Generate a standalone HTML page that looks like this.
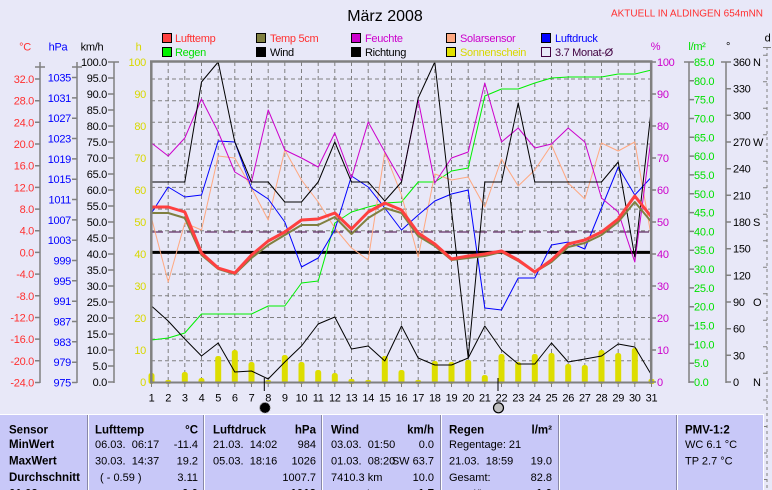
<!DOCTYPE html>
<html><head><meta charset="utf-8"><style>
html,body{margin:0;padding:0;background:#E8E8F8;width:772px;height:490px;overflow:hidden;}
svg{display:block;}
text{font-family:"Liberation Sans",sans-serif;font-size:11px;letter-spacing:-0.3px;}
.t{letter-spacing:0;}
.b{font-weight:bold;font-size:11.5px;letter-spacing:0;}
</style></head><body>
<svg width="772" height="490" xmlns="http://www.w3.org/2000/svg">
<rect x="0" y="0" width="772" height="490" fill="#E8E8F8"/>

<!-- title -->
<text x="385" y="21" text-anchor="middle" style="font-size:16px;letter-spacing:0">März 2008</text>
<text x="763" y="16.5" text-anchor="end" fill="#FF3030" style="font-size:10px;letter-spacing:0" textLength="152" lengthAdjust="spacingAndGlyphs">AKTUELL IN ALDINGEN 654mNN</text>

<!-- legend -->
<g stroke="#000" stroke-width="1">
<rect x="162.5" y="33.5" width="9" height="9" fill="#FF4040"/>
<rect x="256.5" y="33.5" width="9" height="9" fill="#808040"/>
<rect x="351.5" y="33.5" width="9" height="9" fill="#CC00CC"/>
<rect x="446.5" y="33.5" width="9" height="9" fill="#FFA880"/>
<rect x="541.5" y="33.5" width="9" height="9" fill="#0000FF"/>
<rect x="162.5" y="47.5" width="9" height="9" fill="#00F000"/>
<rect x="256.5" y="47.5" width="9" height="9" fill="#000"/>
<rect x="351.5" y="47.5" width="9" height="9" fill="#000"/>
<rect x="446.5" y="47.5" width="9" height="9" fill="#E0E000"/>
<rect x="541.5" y="47.5" width="9" height="9" fill="none" stroke="#400040"/>
</g>
<text x="175" y="42" fill="#FF3030">Lufttemp</text>
<text x="270" y="42" fill="#FF3030">Temp 5cm</text>
<text x="365" y="42" fill="#CC00CC">Feuchte</text>
<text x="460" y="42" fill="#CC00CC">Solarsensor</text>
<text x="555" y="42" fill="#0000FF">Luftdruck</text>
<text x="175" y="56" fill="#00E000">Regen</text>
<text x="270" y="56" fill="#000">Wind</text>
<text x="365" y="56" fill="#000">Richtung</text>
<text x="460" y="56" fill="#D8D800">Sonnenschein</text>
<text x="555" y="56" fill="#400040">3.7 Monat-Ø</text>

<!-- axis headers -->
<text x="25" y="50.5" text-anchor="middle" fill="#FF3030">°C</text>
<text x="58" y="50.5" text-anchor="middle" fill="#0000FF">hPa</text>
<text x="92" y="50.5" text-anchor="middle" fill="#000">km/h</text>
<text x="138.5" y="50.5" text-anchor="middle" fill="#D8D800">h</text>
<text x="655.5" y="50" text-anchor="middle" fill="#CC00CC">%</text>
<text x="697" y="50" text-anchor="middle" fill="#00E000">l/m²</text>
<text x="728" y="50" text-anchor="middle" fill="#000">°</text>
<text x="767.5" y="41.5" text-anchor="middle" fill="#000">d</text>

<!-- grid -->
<g stroke="#808080" stroke-width="1" stroke-dasharray="4,3" fill="none">
<path d="M168.2 62V382M184.8 62V382M201.5 62V382M218.2 62V382M234.8 62V382M251.5 62V382M268.2 62V382M284.8 62V382M301.5 62V382M318.2 62V382M334.8 62V382M351.5 62V382M368.2 62V382M384.8 62V382M401.5 62V382M418.2 62V382M434.8 62V382M451.5 62V382M468.2 62V382M484.8 62V382M501.5 62V382M518.2 62V382M534.8 62V382M551.5 62V382M568.2 62V382M584.8 62V382M601.5 62V382M618.2 62V382M634.8 62V382"/>
<path d="M151 79H651M151 100.7H651M151 122.3H651M151 144H651M151 165.7H651M151 187.4H651M151 209.1H651M151 230.7H651M151 274.1H651M151 295.8H651M151 317.5H651M151 339.1H651M151 360.8H651"/>
</g>

<!-- sunshine bars -->
<g fill="#DDDD00">
<rect x="148.5" y="373" width="6" height="11" rx="2.5"/>
<rect x="165.2" y="380" width="6" height="4" rx="2"/>
<rect x="181.8" y="372" width="6" height="12" rx="2.5"/>
<rect x="198.5" y="378" width="6" height="6" rx="2.5"/>
<rect x="215.2" y="356" width="6" height="28" rx="2.5"/>
<rect x="231.8" y="350" width="6" height="34" rx="2.5"/>
<rect x="248.5" y="362" width="6" height="22" rx="2.5"/>
<rect x="265.2" y="380" width="6" height="4" rx="2"/>
<rect x="281.8" y="355" width="6" height="29" rx="2.5"/>
<rect x="298.5" y="362" width="6" height="22" rx="2.5"/>
<rect x="315.2" y="370" width="6" height="14" rx="2.5"/>
<rect x="331.8" y="373" width="6" height="11" rx="2.5"/>
<rect x="348.5" y="379" width="6" height="5" rx="2"/>
<rect x="365.2" y="380" width="6" height="4" rx="2"/>
<rect x="381.8" y="356" width="6" height="28" rx="2.5"/>
<rect x="398.5" y="370" width="6" height="14" rx="2.5"/>
<rect x="415.2" y="380" width="6" height="4" rx="2"/>
<rect x="431.8" y="361" width="6" height="23" rx="2.5"/>
<rect x="448.5" y="362" width="6" height="22" rx="2.5"/>
<rect x="465.2" y="360" width="6" height="24" rx="2.5"/>
<rect x="481.8" y="375" width="6" height="9" rx="2.5"/>
<rect x="498.5" y="354" width="6" height="30" rx="2.5"/>
<rect x="515.2" y="362" width="6" height="22" rx="2.5"/>
<rect x="531.8" y="354" width="6" height="30" rx="2.5"/>
<rect x="548.5" y="353" width="6" height="31" rx="2.5"/>
<rect x="565.2" y="364" width="6" height="20" rx="2.5"/>
<rect x="581.8" y="365" width="6" height="19" rx="2.5"/>
<rect x="598.5" y="350" width="6" height="34" rx="2.5"/>
<rect x="615.2" y="353" width="6" height="31" rx="2.5"/>
<rect x="631.8" y="348" width="6" height="36" rx="2.5"/>
<rect x="648.5" y="379" width="6" height="5" rx="2"/>
</g>

<!-- 0°C line and monthly mean -->
<line x1="151" y1="252.4" x2="651" y2="252.4" stroke="#000" stroke-width="3"/>
<line x1="151" y1="232" x2="651" y2="232" stroke="#400040" stroke-width="1" stroke-dasharray="12,6"/>

<!-- series -->
<g fill="none" stroke-linejoin="round">
<polyline stroke="#00F000" stroke-width="1" points="151.5,340 168.2,338 184.8,333 201.5,314 218.2,314 234.8,314 251.5,314 268.2,306 284.8,306 301.5,283 318.2,281 334.8,223 351.5,212 368.2,207 384.8,203 401.5,202 418.2,182 434.8,182 451.5,171 468.2,168 484.8,96 501.5,89 518.2,89 534.8,83 551.5,78 568.2,77 584.8,77 601.5,77 618.2,74 634.8,74 651.5,70"/>
<polyline stroke="#FFA880" stroke-width="1" points="151.5,218 168.2,282 184.8,223 201.5,230 218.2,156 234.8,158 251.5,188 268.2,220 284.8,150 301.5,180 318.2,202 334.8,228 351.5,248 368.2,260 384.8,152 401.5,195 418.2,257 434.8,174 451.5,180 468.2,177 484.8,207 501.5,159 518.2,186 534.8,170 551.5,145 568.2,183 584.8,199 601.5,143 618.2,151 634.8,142 651.5,238"/>
<polyline stroke="#0000FF" stroke-width="1" points="151.5,213 168.2,187 184.8,197 201.5,195 218.2,141 234.8,142 251.5,188 268.2,199 284.8,222 301.5,267 318.2,258 334.8,230 351.5,176 368.2,187 384.8,208 401.5,230 418.2,215 434.8,201 451.5,194 468.2,190 484.8,308 501.5,310 518.2,278 534.8,278 551.5,245 568.2,242 584.8,249 601.5,208 618.2,167 634.8,195 651.5,177"/>
<polyline stroke="#CC00CC" stroke-width="1" points="151.5,143 168.2,156 184.8,138 201.5,99 218.2,132 234.8,172 251.5,182 268.2,110 284.8,150 301.5,158 318.2,167 334.8,133 351.5,178 368.2,122 384.8,152 401.5,181 418.2,100 434.8,183 451.5,158 468.2,152 484.8,83 501.5,142 518.2,128 534.8,148 551.5,144 568.2,128 584.8,142 601.5,198 618.2,212 634.8,262 651.5,135"/>
<polyline stroke="#000" stroke-width="1" points="151.5,306 168.2,321 184.8,339 201.5,356 218.2,343 234.8,372 251.5,371 268.2,379 284.8,362 301.5,346 318.2,324 334.8,317 351.5,349 368.2,346 384.8,361 401.5,326 418.2,358 434.8,365 451.5,365 468.2,358 484.8,326 501.5,350 518.2,364 534.8,364 551.5,343 568.2,362 584.8,359 601.5,356 618.2,344 634.8,347 651.5,375"/>
<polyline stroke="#000" stroke-width="1" points="151.5,182 168.2,182 184.8,182 201.5,82 218.2,62 234.8,142 251.5,182 268.2,182 284.8,202 301.5,202 318.2,182 334.8,142 351.5,182 368.2,182 384.8,201 401.5,182 418.2,98 434.8,62 451.5,210 468.2,358 484.8,182 501.5,182 518.2,103 534.8,182 551.5,182 568.2,182 584.8,182 601.5,182 618.2,162 634.8,257 651.5,107"/>
<polyline stroke="#808040" stroke-width="2" points="151.5,213 168.2,213 184.8,218 201.5,255 218.2,269 234.8,274 251.5,258 268.2,245 284.8,235 301.5,225 318.2,225 334.8,217 351.5,234 368.2,218 384.8,208 401.5,213 418.2,236 434.8,246 451.5,260 468.2,258 484.8,256 501.5,252 518.2,261 534.8,272 551.5,262 568.2,247 584.8,243 601.5,235 618.2,222 634.8,202 651.5,222"/>
<polyline stroke="#FF4040" stroke-width="3" points="151.5,207 168.2,207 184.8,212 201.5,253 218.2,268 234.8,273 251.5,255 268.2,241 284.8,232 301.5,220 318.2,219 334.8,213 351.5,229 368.2,212 384.8,203 401.5,210 418.2,233 434.8,244 451.5,259 468.2,256 484.8,254 501.5,251 518.2,260 534.8,272 551.5,260 568.2,244 584.8,240 601.5,232 618.2,219 634.8,196 651.5,217"/>
</g>

<!-- plot border -->
<g stroke="#808080" fill="none">
<line x1="150" y1="61.5" x2="652.5" y2="61.5" stroke-width="2.5"/>
<line x1="151.3" y1="60.5" x2="151.3" y2="383.5" stroke-width="2.5"/>
<line x1="651.2" y1="60.5" x2="651.2" y2="383.5" stroke-width="2.5"/>
<line x1="150" y1="382.5" x2="652.5" y2="382.5" stroke-width="2"/>
<path stroke-width="1" d="M168.2 383V387M184.8 383V387M201.5 383V387M218.2 383V387M234.8 383V387M251.5 383V387M268.2 383V387M284.8 383V387M301.5 383V387M318.2 383V387M334.8 383V387M351.5 383V387M368.2 383V387M384.8 383V387M401.5 383V387M418.2 383V387M434.8 383V387M451.5 383V387M468.2 383V387M484.8 383V387M501.5 383V387M518.2 383V387M534.8 383V387M551.5 383V387M568.2 383V387M584.8 383V387M601.5 383V387M618.2 383V387M634.8 383V387M151.5 383V387M651.5 383V387"/>
</g>
<line x1="264.3" y1="378" x2="264.3" y2="391" stroke="#000" stroke-width="1"/>
<line x1="498" y1="378" x2="498" y2="391" stroke="#000" stroke-width="1"/>

<!-- left axes lines & ticks -->
<g stroke="#808080" stroke-width="1.5" fill="none">
<line x1="40" y1="62" x2="40" y2="383"/>
<path d="M35 67H45M35 382.5H40M35 360.8H40M35 339.1H40M35 317.5H40M35 295.8H40M35 274.1H40M35 252.4H40M35 230.7H40M35 209.1H40M35 187.4H40M35 165.7H40M35 144H40M35 122.3H40M35 100.7H40M35 79H40"/>
<line x1="77" y1="62" x2="77" y2="383"/>
<path d="M72 67H82M72 382.5H77M72 362.2H77M72 341.8H77M72 321.5H77M72 301.2H77M72 280.8H77M72 260.5H77M72 240.2H77M72 219.9H77M72 199.5H77M72 179.2H77M72 158.9H77M72 138.5H77M72 118.2H77M72 97.9H77M72 77.5H77"/>
<line x1="114" y1="62" x2="114" y2="383"/>
<path d="M108 62H119M108 78H114M108 94H114M108 110H114M108 126H114M108 142H114M108 158H114M108 174H114M108 190H114M108 206H114M108 222H114M108 238H114M108 254H114M108 270H114M108 286H114M108 302H114M108 318H114M108 334H114M108 350H114M108 366H114M108 382H114"/>
<path d="M651 62H656M651 94H656M651 126H656M651 158H656M651 190H656M651 222H656M651 254H656M651 286H656M651 318H656M651 350H656M651 382H656"/>
<line x1="689" y1="62" x2="689" y2="383"/>
<path d="M684 62H694M689 80.8H694M689 99.6H694M689 118.5H694M689 137.3H694M689 156.1H694M689 174.9H694M689 193.8H694M689 212.6H694M689 231.4H694M689 250.2H694M689 269.1H694M689 287.9H694M689 306.7H694M689 325.5H694M689 344.4H694M689 363.2H694M689 382H694"/>
<line x1="726" y1="62" x2="726" y2="383"/>
<path d="M721 62H731M726 88.7H731M726 115.3H731M726 142H731M726 168.7H731M726 195.3H731M726 222H731M726 248.7H731M726 275.3H731M726 302H731M726 328.7H731M726 355.3H731M726 382H731"/>
</g>
<!-- far right d axis -->
<line x1="767" y1="47" x2="767" y2="490" stroke="#808080" stroke-width="1" stroke-dasharray="3,3"/>
<path stroke="#808080" stroke-width="1" d="M763 47.5H771M763 55.3H767M763 81.8H767M763 108.3H767M763 134.8H767M763 161.3H767M763 187.8H767M763 214.3H767M763 240.8H767M763 267.3H767M763 293.8H767M763 320.3H767M763 346.8H767M763 373.3H767M763 400H767M763 426.5H767M763 453H767M763 479.5H767"/>

<!-- °C labels -->
<g fill="#FF3030" text-anchor="end">
<text x="34" y="386.5">-24.0</text><text x="34" y="364.8">-20.0</text><text x="34" y="343.1">-16.0</text><text x="34" y="321.5">-12.0</text><text x="34" y="299.8">-8.0</text><text x="34" y="278.1">-4.0</text><text x="34" y="256.4">0.0</text><text x="34" y="234.7">4.0</text><text x="34" y="213.1">8.0</text><text x="34" y="191.4">12.0</text><text x="34" y="169.7">16.0</text><text x="34" y="148">20.0</text><text x="34" y="126.3">24.0</text><text x="34" y="104.7">28.0</text><text x="34" y="83">32.0</text>
</g>
<!-- hPa labels -->
<g fill="#0000FF" text-anchor="end">
<text x="71" y="386.5">975</text><text x="71" y="366.2">979</text><text x="71" y="345.8">983</text><text x="71" y="325.5">987</text><text x="71" y="305.2">991</text><text x="71" y="284.8">995</text><text x="71" y="264.5">999</text><text x="71" y="244.2">1003</text><text x="71" y="223.9">1007</text><text x="71" y="203.5">1011</text><text x="71" y="183.2">1015</text><text x="71" y="162.9">1019</text><text x="71" y="142.5">1023</text><text x="71" y="122.2">1027</text><text x="71" y="101.9">1031</text><text x="71" y="81.5">1035</text>
</g>
<!-- km/h labels -->
<g fill="#000" text-anchor="end">
<text x="107" y="66">100.0</text><text x="107" y="82">95.0</text><text x="107" y="98">90.0</text><text x="107" y="114">85.0</text><text x="107" y="130">80.0</text><text x="107" y="146">75.0</text><text x="107" y="162">70.0</text><text x="107" y="178">65.0</text><text x="107" y="194">60.0</text><text x="107" y="210">55.0</text><text x="107" y="226">50.0</text><text x="107" y="242">45.0</text><text x="107" y="258">40.0</text><text x="107" y="274">35.0</text><text x="107" y="290">30.0</text><text x="107" y="306">25.0</text><text x="107" y="322">20.0</text><text x="107" y="338">15.0</text><text x="107" y="354">10.0</text><text x="107" y="370">5.0</text><text x="107" y="386">0.0</text>
</g>
<!-- h labels -->
<g fill="#D8D800" text-anchor="end">
<text x="146" y="66">100</text><text x="146" y="98">90</text><text x="146" y="130">80</text><text x="146" y="162">70</text><text x="146" y="194">60</text><text x="146" y="226">50</text><text x="146" y="258">40</text><text x="146" y="290">30</text><text x="146" y="322">20</text><text x="146" y="354">10</text><text x="146" y="386">0</text>
</g>
<!-- % labels -->
<g fill="#CC00CC">
<text x="657" y="66">100</text><text x="657" y="98">90</text><text x="657" y="130">80</text><text x="657" y="162">70</text><text x="657" y="194">60</text><text x="657" y="226">50</text><text x="657" y="258">40</text><text x="657" y="290">30</text><text x="657" y="322">20</text><text x="657" y="354">10</text><text x="657" y="386">0</text>
</g>
<!-- l/m2 labels -->
<g fill="#00E000">
<text x="694" y="66">85.0</text><text x="694" y="84.8">80.0</text><text x="694" y="103.6">75.0</text><text x="694" y="122.5">70.0</text><text x="694" y="141.3">65.0</text><text x="694" y="160.1">60.0</text><text x="694" y="178.9">55.0</text><text x="694" y="197.8">50.0</text><text x="694" y="216.6">45.0</text><text x="694" y="235.4">40.0</text><text x="694" y="254.2">35.0</text><text x="694" y="273.1">30.0</text><text x="694" y="291.9">25.0</text><text x="694" y="310.7">20.0</text><text x="694" y="329.5">15.0</text><text x="694" y="348.4">10.0</text><text x="694" y="367.2">5.0</text><text x="694" y="386">0.0</text>
</g>
<!-- direction labels -->
<g fill="#000">
<text x="733" y="66">360</text><text x="753" y="66">N</text>
<text x="733" y="92.7">330</text>
<text x="733" y="119.3">300</text>
<text x="733" y="146">270</text><text x="753" y="146">W</text>
<text x="733" y="172.7">240</text>
<text x="733" y="199.3">210</text>
<text x="733" y="226">180</text><text x="753" y="226">S</text>
<text x="733" y="252.7">150</text>
<text x="733" y="279.3">120</text>
<text x="733" y="306">90</text><text x="753" y="306">O</text>
<text x="733" y="332.7">60</text>
<text x="733" y="359.3">30</text>
<text x="733" y="386">0</text><text x="753" y="386">N</text>
</g>

<!-- day labels -->
<g fill="#000" text-anchor="middle">
<text x="151.5" y="401.5">1</text><text x="168.2" y="401.5">2</text><text x="184.8" y="401.5">3</text><text x="201.5" y="401.5">4</text><text x="218.2" y="401.5">5</text><text x="234.8" y="401.5">6</text><text x="251.5" y="401.5">7</text><text x="268.2" y="401.5">8</text><text x="284.8" y="401.5">9</text><text x="301.5" y="401.5">10</text><text x="318.2" y="401.5">11</text><text x="334.8" y="401.5">12</text><text x="351.5" y="401.5">13</text><text x="368.2" y="401.5">14</text><text x="384.8" y="401.5">15</text><text x="401.5" y="401.5">16</text><text x="418.2" y="401.5">17</text><text x="434.8" y="401.5">18</text><text x="451.5" y="401.5">19</text><text x="468.2" y="401.5">20</text><text x="484.8" y="401.5">21</text><text x="501.5" y="401.5">22</text><text x="518.2" y="401.5">23</text><text x="534.8" y="401.5">24</text><text x="551.5" y="401.5">25</text><text x="568.2" y="401.5">26</text><text x="584.8" y="401.5">27</text><text x="601.5" y="401.5">28</text><text x="618.2" y="401.5">29</text><text x="634.8" y="401.5">30</text><text x="651.5" y="401.5">31</text>
</g>

<!-- moon icons -->
<circle cx="265" cy="407.8" r="5.3" fill="#000" stroke="#A0A0A0" stroke-width="1" stroke-dasharray="1,1"/>
<circle cx="498.5" cy="407.8" r="5" fill="#C0C0C0" stroke="#000" stroke-width="1.2"/>

<!-- table -->
<rect x="0" y="414" width="763" height="76" fill="#C8C8F8"/>
<line x1="0" y1="414.5" x2="763" y2="414.5" stroke="#FFFFFF" stroke-width="1"/>
<line x1="763.5" y1="414" x2="763.5" y2="490" stroke="#FFFFFF" stroke-width="1"/>
<g stroke-width="1">
<line x1="87.5" y1="415" x2="87.5" y2="490" stroke="#8888A8"/><line x1="88.5" y1="415" x2="88.5" y2="490" stroke="#FFFFFF"/>
<line x1="203.5" y1="415" x2="203.5" y2="490" stroke="#8888A8"/><line x1="204.5" y1="415" x2="204.5" y2="490" stroke="#FFFFFF"/>
<line x1="321.5" y1="415" x2="321.5" y2="490" stroke="#8888A8"/><line x1="322.5" y1="415" x2="322.5" y2="490" stroke="#FFFFFF"/>
<line x1="440.5" y1="415" x2="440.5" y2="490" stroke="#8888A8"/><line x1="441.5" y1="415" x2="441.5" y2="490" stroke="#FFFFFF"/>
<line x1="558.5" y1="415" x2="558.5" y2="490" stroke="#8888A8"/><line x1="559.5" y1="415" x2="559.5" y2="490" stroke="#FFFFFF"/>
<line x1="676.5" y1="415" x2="676.5" y2="490" stroke="#8888A8"/><line x1="677.5" y1="415" x2="677.5" y2="490" stroke="#FFFFFF"/>
</g>

<g fill="#000">
<text class="b" x="9" y="433.3">Sensor</text>
<text class="b" x="9" y="448">MinWert</text>
<text class="b" x="9" y="464.3">MaxWert</text>
<text class="b" x="9" y="481">Durchschnitt</text>
<text class="b" x="9" y="497.5">01.03.</text>

<text class="b" x="95" y="433.3">Lufttemp</text>
<text class="b" x="198" y="433.3" text-anchor="end">°C</text>
<text class="t" x="95" y="448">06.03.&#160; 06:17</text>
<text class="t" x="198" y="448" text-anchor="end">-11.4</text>
<text class="t" x="95" y="464.3">30.03.&#160; 14:37</text>
<text class="t" x="198" y="464.3" text-anchor="end">19.2</text>
<text class="t" x="100" y="481">( - 0.59 )</text>
<text class="t" x="198" y="481" text-anchor="end">3.11</text>
<text class="b" x="198" y="497.5" text-anchor="end">0.0</text>

<text class="b" x="213" y="433.3">Luftdruck</text>
<text class="b" x="316" y="433.3" text-anchor="end">hPa</text>
<text class="t" x="213" y="448">21.03.&#160; 14:02</text>
<text class="t" x="316" y="448" text-anchor="end">984</text>
<text class="t" x="213" y="464.3">05.03.&#160; 18:16</text>
<text class="t" x="316" y="464.3" text-anchor="end">1026</text>
<text class="t" x="316" y="481" text-anchor="end">1007.7</text>
<text class="b" x="316" y="497.5" text-anchor="end">1013</text>

<text class="b" x="331" y="433.3">Wind</text>
<text class="b" x="434" y="433.3" text-anchor="end">km/h</text>
<text class="t" x="331" y="448">03.03.&#160; 01:50</text>
<text class="t" x="434" y="448" text-anchor="end">0.0</text>
<text class="t" x="331" y="464.3">01.03.&#160; 08:20</text>
<text class="t" x="434" y="464.3" text-anchor="end">SW 63.7</text>
<text class="t" x="331" y="481">7410.3 km</text>
<text class="t" x="434" y="481" text-anchor="end">10.0</text>
<text class="t" x="331" y="497.5">1.5% Nb</text>
<text class="b" x="434" y="497.5" text-anchor="end">1.7</text>

<text class="b" x="449" y="433.3">Regen</text>
<text class="b" x="552" y="433.3" text-anchor="end">l/m²</text>
<text class="t" x="449" y="448">Regentage: 21</text>
<text class="t" x="449" y="464.3">21.03.&#160; 18:59</text>
<text class="t" x="552" y="464.3" text-anchor="end">19.0</text>
<text class="t" x="449" y="481">Gesamt:</text>
<text class="t" x="552" y="481" text-anchor="end">82.8</text>
<text class="t" x="449" y="497.5">99.9 l/h</text>
<text class="b" x="552" y="497.5" text-anchor="end">1.0</text>

<text class="b" x="685" y="433.3">PMV-1:2</text>
<text class="t" x="685" y="448">WC 6.1 °C</text>
<text class="t" x="685" y="464.3">TP 2.7 °C</text>
</g>
</svg>
</body></html>
